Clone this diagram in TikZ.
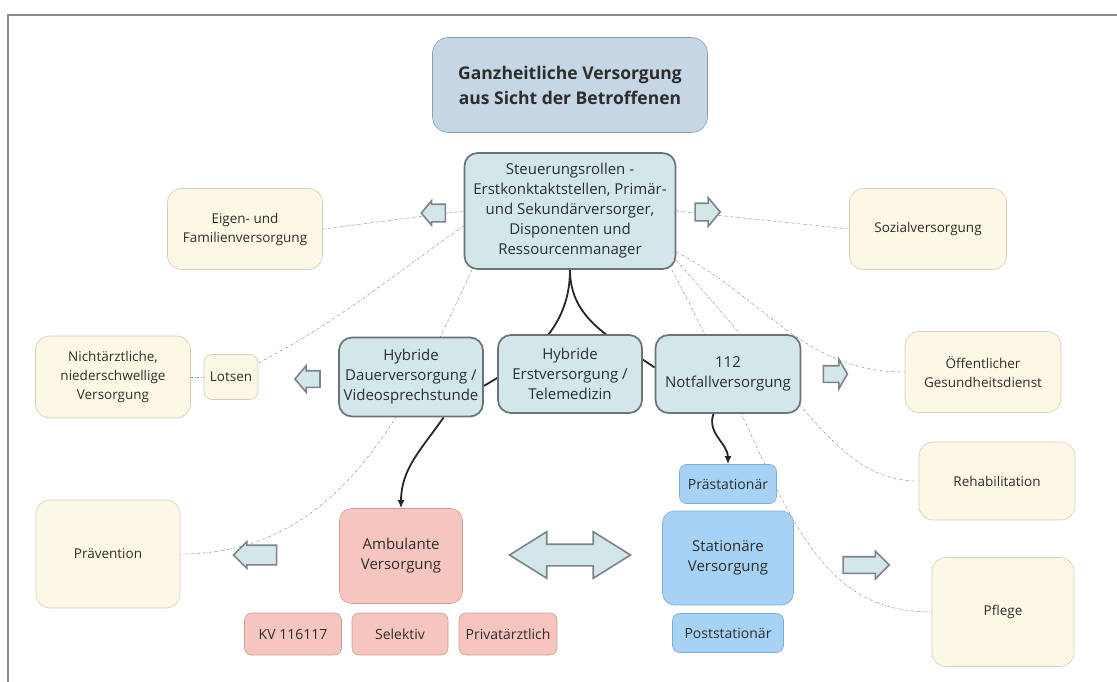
\documentclass[tikz,border=0pt]{standalone}
\usepackage{fontspec}
\setmainfont{Open Sans}
\usetikzlibrary{shapes.arrows,arrows.meta,backgrounds}
\definecolor{kopffill}{RGB}{199,214,228}
\definecolor{kopfrand}{RGB}{140,156,172}
\definecolor{rollefill}{RGB}{211,231,235}
\definecolor{rollerand}{RGB}{108,115,118}
\definecolor{sektorfill}{RGB}{253,248,230}
\definecolor{sektorrand}{RGB}{210,205,185}
\definecolor{ambfill}{RGB}{247,197,191}
\definecolor{ambrand}{RGB}{200,160,155}
\definecolor{statfill}{RGB}{166,211,245}
\definecolor{statrand}{RGB}{128,172,210}
\definecolor{pfeilrand}{RGB}{125,132,135}
\definecolor{linegray}{RGB}{140,140,140}
\definecolor{framegray}{RGB}{138,138,150}
\definecolor{textgray}{RGB}{45,45,45}

\begin{document}
\begin{tikzpicture}[x=1pt, y=1pt,
	kopfbox/.style = {draw=kopfrand, line width=0.6pt, fill=kopffill, rounded corners=16pt, align=center, inner sep=2pt, text=textgray, font=\fontsize{17.5}{25}\selectfont\bfseries},
	rollebox/.style = {draw=rollerand, line width=1.7pt, fill=rollefill, rounded corners=13pt, align=center, inner sep=2pt, text=textgray, font=\fontsize{15}{20}\selectfont},
	sektorbox/.style = {draw=sektorrand, line width=0.6pt, fill=sektorfill, rounded corners=14pt, align=center, inner sep=2pt, text=textgray, font=\fontsize{13.5}{19}\selectfont},
	ambbox/.style = {draw=ambrand, line width=0.6pt, fill=ambfill, rounded corners=12pt, align=center, inner sep=2pt, text=textgray, font=\fontsize{14}{20}\selectfont},
	statbox/.style = {draw=statrand, line width=0.6pt, fill=statfill, rounded corners=12pt, align=center, inner sep=2pt, text=textgray, font=\fontsize{14}{20}\selectfont},
	pfeil/.style = {single arrow, draw=pfeilrand, line width=1.6pt, fill=rollefill, inner xsep=0pt, inner ysep=7.5pt, minimum width=0pt, single arrow head extend=4pt, single arrow tip angle=100},
	lose/.style = {draw=linegray, line width=0.5pt, dash pattern=on 2.5pt off 1.5pt on 0.6pt off 1.5pt},
	fest/.style = {draw=black!85, line width=1.8pt}]
	\useasboundingbox (0,0) rectangle (1117,-682);
	\draw[framegray, line width=1.5pt] (1117,-15) -- (8,-15) -- (8,-682);

	% oben
	\node (kopf) at (570,-85) [kopfbox, minimum width=275pt, minimum height=95pt] {Ganzheitliche Versorgung\\aus Sicht der Betroffenen};
	\node (steuer) at (570,-211) [rollebox, minimum width=211pt, minimum height=116pt] {Steuerungsrollen -\\Erstkonktaktstellen, Primär-\\und Sekundärversorger,\\Disponenten und\\Ressourcenmanager};
	\node (eigen) at (245,-229) [sektorbox, minimum width=155pt, minimum height=81pt] {Eigen- und\\Familienversorgung};
	\node (sozial) at (928,-229) [sektorbox, minimum width=157pt, minimum height=81pt] {Sozialversorgung};

	% mitte
	\node (nicht) at (113,-377) [sektorbox, minimum width=155pt, minimum height=82pt] {Nichtärztliche,\\niederschwellige\\Versorgung};
	\node (lotsen) at (231,-377) [sektorbox, rounded corners=8pt, minimum width=54pt, minimum height=45pt] {Lotsen};
	\node (dauer) at (411,-377) [rollebox, minimum width=144pt, minimum height=79pt] {Hybride\\Dauerversorgung /\\Videosprechstunde};
	\node (erst) at (570,-374) [rollebox, minimum width=144pt, minimum height=78pt] {Hybride\\Erstversorgung /\\Telemedizin};
	\node (notfall) at (728,-374) [rollebox, minimum width=145pt, minimum height=78pt] {112\\Notfallversorgung};
	\node (oeff) at (983,-372) [sektorbox, minimum width=156pt, minimum height=81pt] {Öffentlicher\\Gesundheitsdienst};
	\node (reha) at (997,-481) [sektorbox, minimum width=156pt, minimum height=78pt] {Rehabilitation};

	% unten
	\node (praev) at (108,-554) [sektorbox, minimum width=144pt, minimum height=108pt] {Prävention};
	\node (amb) at (401,-556) [ambbox, minimum width=123pt, minimum height=95pt, font=\fontsize{15}{20}\selectfont] {Ambulante\\Versorgung};
	\node (kv) at (293,-634) [ambbox, rounded corners=7pt, minimum width=97pt, minimum height=42pt] {KV 116117};
	\node (selektiv) at (400,-634) [ambbox, rounded corners=7pt, minimum width=96pt, minimum height=42pt] {Selektiv};
	\node (privat) at (508,-634) [ambbox, rounded corners=7pt, minimum width=98pt, minimum height=42pt] {Privatärztlich};
	\node (praestat) at (728,-484) [statbox, rounded corners=7pt, minimum width=97pt, minimum height=39pt] {Prästationär};
	\node (stat) at (728,-558) [statbox, minimum width=131pt, minimum height=94pt, font=\fontsize{15}{20}\selectfont] {Stationäre\\Versorgung};
	\node (poststat) at (728,-633) [statbox, rounded corners=7pt, minimum width=111pt, minimum height=39pt] {Poststationär};
	\node (pflege) at (1003,-612) [sektorbox, minimum width=142pt, minimum height=109pt] {Pflege};

	% pfeile
	\node (arrEigen) at (437,-213) [pfeil, shape border rotate=180, minimum height=24pt, inner ysep=8pt, single arrow head extend=3.5pt] {};
	\node (arrSozial) at (704,-212) [pfeil, minimum height=25pt, inner ysep=8pt, single arrow head extend=5.5pt] {};
	\node (arrLotsen) at (311,-379) [pfeil, shape border rotate=180, minimum height=25pt, single arrow head extend=5pt] {};
	\node (arrOeff) at (833,-374) [pfeil, minimum height=24pt, single arrow head extend=6.5pt, single arrow tip angle=120] {};
	\node (arrPraev) at (260,-555) [pfeil, shape border rotate=180, minimum height=43pt, inner ysep=9pt, single arrow head extend=3.5pt, single arrow tip angle=90] {};
	\node (arrPflege) at (862,-565) [pfeil, minimum height=46pt, single arrow head extend=5.5pt, single arrow tip angle=90] {};
	\node (arrBoth) at (570,-555) [double arrow, draw=pfeilrand, line width=1.6pt, fill=rollefill, inner xsep=0pt, inner ysep=10pt, minimum width=0pt, minimum height=121pt, double arrow head extend=12.5pt, double arrow tip angle=64] {};

	\begin{pgfonlayer}{background}
	\draw[lose] (steuer.west) -- (eigen.east);
	\draw[lose] (steuer.east) -- (sozial.west);
	\draw[lose] (nicht.east) -- (lotsen.west);
	\draw[lose] (steuer.188) to[out=215, in=28] (lotsen.27);
	\draw[lose] (steuer.211) to[out=-115, in=0] (praev.east);
	\draw[lose] (steuer.-21) to[out=-28, in=180] (oeff.west);
	\draw[lose] (steuer.-25) to[out=-48, in=180, out looseness=1.6, in looseness=0.6] (reha.west);
	\draw[lose] (steuer.-30) to[out=-62, in=180, out looseness=1.4, in looseness=0.8] (pflege.west);
	\draw[fest] (steuer.south) to[out=-90, in=30] (dauer.-7);
	\draw[fest] (steuer.south) to[out=-90, in=145] (notfall.175);
	\draw[fest, -{Latex[length=8pt, width=7pt]}] (dauer.-51) to[out=-125, in=90] (amb.north);
	\draw[fest, -{Latex[length=8pt, width=7pt]}] (notfall.-110) to[out=-110, in=90] (praestat.north);
	\end{pgfonlayer}
\end{tikzpicture}
\end{document}
